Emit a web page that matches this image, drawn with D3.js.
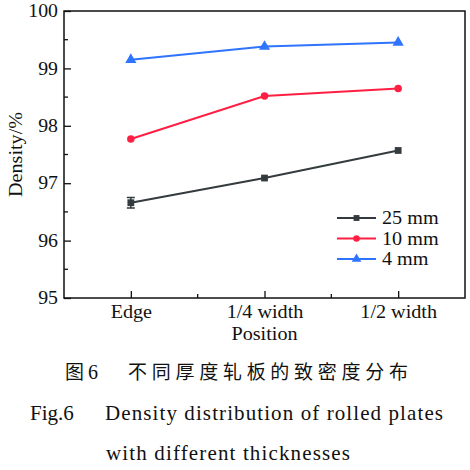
<!DOCTYPE html>
<html>
<head>
<meta charset="utf-8">
<script src="https://cdn.jsdelivr.net/npm/d3@7"></script>
<style>
  body { margin: 0; background: #fff; }
  svg { display: block; }
  text { font-family: "Liberation Serif", "DejaVu Serif", serif; fill: #111; }
  .cjk { font-family: "Noto Sans CJK SC", sans-serif; }
</style>
</head>
<body>
<svg id="chart" width="470" height="470"></svg>
<script>
// data
const positions = ["Edge", "1/4 width", "1/2 width"];
const seriesNames = ["25 mm", "10 mm", "4 mm"];
const density25 = [96.66, 97.09, 97.57];
const density10 = [97.77, 98.52, 98.65];
const density4 = [99.15, 99.38, 99.45];
const error25 = [0.09, 0, 0];
const yTicks = [95, 96, 97, 98, 99, 100];

const colors = ["#333b3e", "#ff1f43", "#2f74ff"];
const shapes = [d3.symbolSquare, d3.symbolCircle, d3.symbolTriangle];
const sizes = [46, 44, 54];

const series = [density25, density10, density4].map((vals, i) => ({
  name: seriesNames[i],
  values: vals.map((v, j) => ({ pos: j + 1, v: v, err: i === 0 ? error25[j] : 0 }))
}));

const svg = d3.select("#chart");
const mLeft = 64, mRight = 465, mTop = 11, mBottom = 298;

// the figure's latin font is a bit wider than Times, stretch it
function widen(sel, k) {
  sel.each(function () {
    const w = this.getComputedTextLength();
    d3.select(this).attr("textLength", w * k).attr("lengthAdjust", "spacingAndGlyphs");
  });
}

const x = d3.scaleLinear().domain([0.5, 3.5]).range([mLeft, mRight]);
const y = d3.scaleLinear().domain([95, 100]).range([mBottom, mTop]);

// frame
svg.append("rect")
  .attr("x", mLeft).attr("y", mTop)
  .attr("width", mRight - mLeft).attr("height", mBottom - mTop)
  .attr("fill", "none").attr("stroke", "#111").attr("stroke-width", 1.5);

// y axis (ticks inward)
const yAxis = d3.axisLeft(y).tickValues(yTicks).tickSize(-7).tickPadding(6).tickFormat(d3.format("d"));
const gy = svg.append("g").attr("transform", `translate(${mLeft},0)`).call(yAxis);
gy.select(".domain").remove();
gy.selectAll("line").attr("stroke", "#111").attr("stroke-width", 1.3);
gy.selectAll("text").style("font-size", "18px").attr("fill", "#111").call(widen, 1.1);

svg.append("g").selectAll("line")
  .data(d3.range(95.5, 100, 1))
  .join("line")
  .attr("x1", mLeft).attr("x2", mLeft + 4)
  .attr("y1", d => y(d)).attr("y2", d => y(d))
  .attr("stroke", "#111").attr("stroke-width", 1.3);

// x axis
const xAxis = d3.axisBottom(x).tickValues([1, 2, 3]).tickSize(-7).tickPadding(7)
  .tickFormat(d => positions[d - 1]);
const gx = svg.append("g").attr("transform", `translate(0,${mBottom})`).call(xAxis);
gx.select(".domain").remove();
gx.selectAll("line").attr("stroke", "#111").attr("stroke-width", 1.3);
gx.selectAll("text").style("font-size", "18px").attr("fill", "#111").call(widen, 1.12);

svg.append("g").selectAll("line")
  .data([1.5, 2.5])
  .join("line")
  .attr("x1", d => x(d)).attr("x2", d => x(d))
  .attr("y1", mBottom).attr("y2", mBottom - 4)
  .attr("stroke", "#111").attr("stroke-width", 1.3);

// axis titles
svg.append("text")
  .attr("x", (mLeft + mRight) / 2).attr("y", 340)
  .attr("text-anchor", "middle")
  .style("font-size", "18px")
  .text("Position")
  .call(widen, 1.12);

svg.append("text")
  .attr("transform", `translate(22,${(mTop + mBottom) / 2}) rotate(-90)`)
  .attr("text-anchor", "middle")
  .style("font-size", "18px")
  .text("Density/%")
  .call(widen, 1.12);

// lines + markers
const line = d3.line().x(d => x(d.pos)).y(d => y(d.v));

series.forEach((s, i) => {
  const g = svg.append("g");
  g.append("path")
    .datum(s.values)
    .attr("d", line)
    .attr("fill", "none")
    .attr("stroke", colors[i])
    .attr("stroke-width", 2);

  // error bars
  g.selectAll(".err")
    .data(s.values.filter(d => d.err > 0))
    .join("path")
    .attr("class", "err")
    .attr("d", d => {
      const cx = x(d.pos), y0 = y(d.v - d.err), y1 = y(d.v + d.err);
      return `M${cx - 4},${y0}H${cx + 4}M${cx},${y0}V${y1}M${cx - 4},${y1}H${cx + 4}`;
    })
    .attr("stroke", colors[i])
    .attr("stroke-width", 1.5)
    .attr("fill", "none");

  g.selectAll(".pt")
    .data(s.values)
    .join("path")
    .attr("class", "pt")
    .attr("transform", d => `translate(${x(d.pos)},${y(d.v)})`)
    .attr("d", d3.symbol().type(shapes[i]).size(sizes[i]))
    .attr("fill", colors[i]);
});

// legend
const legend = svg.append("g").selectAll("g")
  .data(series)
  .join("g")
  .attr("transform", (d, i) => `translate(337,${218 + i * 20.5})`);

legend.append("line")
  .attr("x1", 0).attr("x2", 39)
  .attr("stroke", (d, i) => colors[i])
  .attr("stroke-width", 2);

legend.append("path")
  .attr("transform", "translate(19.5,0)")
  .attr("d", (d, i) => d3.symbol().type(shapes[i]).size(sizes[i] * 0.75)())
  .attr("fill", (d, i) => colors[i]);

legend.append("text")
  .attr("x", 45).attr("y", 6)
  .style("font-size", "18px")
  .text(d => d.name)
  .call(widen, 1.12);

// caption
svg.append("text").attr("class", "cjk")
  .attr("x", 65).attr("y", 379)
  .style("font-size", "19px")
  .text("图");

svg.append("text")
  .attr("x", 88).attr("y", 379)
  .style("font-size", "20px")
  .text("6");

svg.append("text").attr("class", "cjk")
  .attr("x", 128).attr("y", 379)
  .style("font-size", "19px")
  .attr("textLength", 280).attr("lengthAdjust", "spacing")
  .text("不同厚度轧板的致密度分布");

svg.append("text")
  .attr("x", 30).attr("y", 420)
  .style("font-size", "21px")
  .text("Fig.6");

svg.append("text")
  .attr("x", 105).attr("y", 420)
  .style("font-size", "21px")
  .attr("textLength", 338).attr("lengthAdjust", "spacing")
  .text("Density distribution of rolled plates");

svg.append("text")
  .attr("x", 106).attr("y", 460)
  .style("font-size", "21px")
  .attr("textLength", 244).attr("lengthAdjust", "spacing")
  .text("with different thicknesses");
</script>
</body>
</html>
